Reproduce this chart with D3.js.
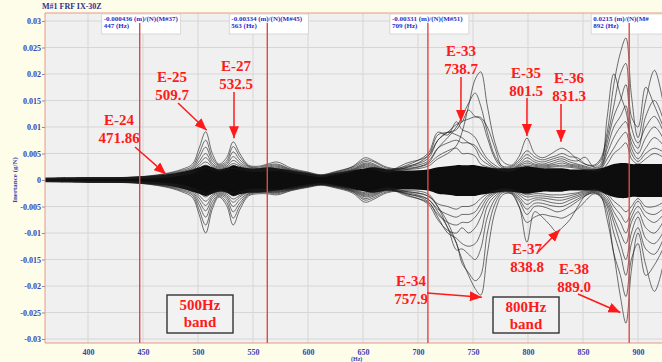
<!DOCTYPE html>
<html lang="en">
<head>
<meta charset="UTF-8">
<title>M#1 FRF IX-30Z</title>
<script src="https://d3js.org/d3.v7.min.js"></script>
<style>
    body { margin: 0; background: #fdfde9; }
    svg { display: block; }
</style>
</head>
<body>
<div id="chart"></div>
<script>
    // frequency grid (Hz)
    var freqs = [
        361, 400, 440, 470, 485, 495, 501, 507, 513, 519,
        526, 532, 538, 546, 555, 563, 572, 585, 600, 612,
        625, 640, 652, 660, 672, 690, 709, 718, 727, 735,
        740, 746, 752, 757, 763, 770, 777, 785, 792, 799,
        806, 813, 820, 826, 831, 838, 845, 852, 860, 866,
        872, 878, 884, 889, 894, 900, 907, 915, 925];

    // dense core of the bundle, in 1e-3 (m)/(N)
    var coreUpper = [
        0.4, 0.5, 0.6, 1.0, 1.5, 2.0, 2.4, 2.8, 2.4, 2.0,
        2.3, 2.8, 2.5, 2.2, 2.2, 2.4, 2.2, 1.8, 1.3, 0.9,
        1.3, 1.8, 2.2, 2.4, 2.0, 1.8, 2.0, 2.4, 2.6, 2.8,
        2.8, 2.8, 2.8, 2.6, 2.4, 2.2, 2.2, 2.2, 2.4, 2.6,
        2.4, 2.2, 2.2, 2.2, 2.2, 2.0, 2.0, 2.0, 2.0, 2.2,
        2.6, 3.0, 3.2, 3.2, 3.0, 3.0, 3.0, 3.0, 3.0];
    var coreLower = [
        -0.4, -0.5, -0.6, -1.0, -1.6, -2.2, -2.6, -3.0, -2.6, -2.2,
        -2.4, -3.0, -2.7, -2.4, -2.4, -2.2, -2.0, -1.7, -1.2, -0.9,
        -1.2, -1.7, -2.2, -2.4, -2.0, -1.8, -2.0, -2.6, -2.8, -3.0,
        -3.0, -3.0, -3.0, -2.8, -2.6, -2.4, -2.2, -2.2, -2.4, -2.6,
        -2.4, -2.2, -2.2, -2.2, -2.2, -2.0, -2.0, -2.0, -2.0, -2.2,
        -2.8, -3.2, -3.4, -3.4, -3.2, -3.2, -3.2, -3.2, -3.2];

    // individual FRF curves, in 1e-3 (m)/(N)
    var p1 = [
        0.3, 0.4, 0.5, 1.2, 2.0, 3.0, 6.0, 9.1, 5.0, 3.0,
        4.2, 7.2, 5.0, 2.8, 2.6, 3.0, 3.4, 2.2, 1.5, 1.0,
        1.6, 2.5, 4.2, 3.6, 2.4, 2.0, 2.6, 4.0, 5.0, 6.5,
        9.0, 14.0, 19.0, 20.4, 14.0, 7.0, 3.5, 2.8, 4.5, 7.9,
        5.0, 4.2, 4.8, 5.6, 6.0, 5.2, 3.8, 3.0, 2.8, 4.0,
        9.0, 18.0, 24.0, 26.8, 16.0, 8.0, 15.0, 20.7, 12.0];
    var p2 = [
        0.3, 0.4, 0.5, 1.1, 1.8, 2.6, 5.0, 7.5, 4.2, 2.8,
        3.6, 6.3, 4.4, 2.6, 2.4, 2.8, 3.0, 2.0, 1.4, 0.9,
        1.5, 2.4, 3.8, 3.4, 2.2, 2.2, 3.2, 6.0, 8.0, 10.0,
        12.0, 14.5, 16.4, 14.0, 9.0, 4.5, 2.6, 2.6, 3.8, 5.5,
        4.4, 3.8, 4.2, 4.6, 5.0, 4.4, 4.2, 3.0, 2.6, 3.6,
        8.0, 14.0, 20.0, 22.0, 12.0, 10.0, 17.5, 14.0, 9.0];
    var p3 = [
        0.3, 0.4, 0.5, 1.0, 1.6, 2.3, 4.2, 6.2, 3.6, 2.6,
        3.2, 5.3, 3.8, 2.5, 2.2, 2.6, 2.8, 1.9, 1.3, 0.9,
        1.4, 2.2, 3.5, 3.0, 2.0, 2.6, 4.0, 7.5, 9.0, 10.5,
        11.0, 13.2, 12.0, 11.8, 10.0, 6.0, 2.4, 2.4, 3.4, 4.8,
        3.8, 3.4, 3.8, 4.2, 4.4, 3.8, 3.6, 4.3, 2.4, 3.0,
        11.9, 20.0, 16.0, 13.0, 8.0, 6.0, 12.0, 15.0, 10.0];
    var p4 = [
        0.3, 0.35, 0.45, 0.9, 1.5, 2.1, 3.5, 5.0, 3.1, 2.4,
        2.9, 4.4, 3.3, 2.3, 2.0, 2.4, 2.6, 1.8, 1.2, 0.8,
        1.3, 2.0, 3.2, 2.8, 1.9, 2.4, 4.5, 8.5, 9.0, 9.5,
        11.0, 11.5, 11.9, 11.5, 8.0, 4.0, 2.2, 2.2, 3.0, 4.2,
        3.4, 3.0, 3.4, 3.8, 4.0, 3.4, 3.0, 2.6, 2.2, 2.6,
        7.0, 12.0, 15.0, 18.0, 10.0, 7.0, 10.0, 12.0, 8.0];
    var p5 = [
        0.25, 0.3, 0.4, 0.8, 1.3, 1.9, 3.0, 4.2, 2.8, 2.2,
        2.6, 3.7, 2.9, 2.1, 1.9, 2.2, 2.4, 1.7, 1.1, 0.8,
        1.2, 1.9, 3.0, 2.6, 1.8, 2.8, 5.0, 9.0, 8.5, 11.0,
        9.5, 9.0, 8.0, 6.0, 4.0, 2.8, 2.0, 2.0, 2.8, 3.6,
        3.0, 2.8, 3.0, 3.4, 3.6, 3.0, 2.8, 2.4, 2.0, 2.4,
        6.0, 10.0, 12.0, 14.0, 7.0, 5.0, 8.0, 10.0, 7.0];
    var p6 = [
        0.25, 0.3, 0.4, 0.7, 1.2, 1.7, 2.6, 3.4, 2.5, 2.0,
        2.4, 3.1, 2.6, 2.0, 1.8, 2.0, 2.2, 1.6, 1.0, 0.7,
        1.1, 1.8, 2.8, 2.4, 1.7, 3.2, 4.5, 7.5, 9.0, 8.5,
        8.0, 7.0, 6.5, 5.0, 3.5, 2.4, 1.9, 1.9, 2.6, 3.2,
        2.8, 2.6, 2.8, 3.0, 3.2, 2.8, 2.6, 2.2, 1.9, 2.2,
        5.0, 8.0, 10.0, 11.0, 6.0, 4.0, 6.0, 8.0, 6.0];
    var p7 = [
        0.2, 0.3, 0.35, 0.6, 1.0, 1.5, 2.2, 2.8, 2.2, 1.9,
        2.1, 2.7, 2.3, 1.9, 1.7, 1.9, 2.0, 1.5, 1.0, 0.7,
        1.1, 1.7, 2.6, 2.2, 1.6, 2.4, 3.5, 6.0, 7.0, 7.5,
        7.0, 7.0, 6.0, 4.0, 3.0, 2.2, 1.8, 1.8, 2.4, 2.8,
        2.6, 2.4, 2.6, 2.7, 2.8, 2.6, 2.4, 2.0, 1.8, 2.0,
        4.0, 6.0, 8.0, 9.0, 5.0, 3.5, 5.0, 6.0, 5.0];
    var p8 = [
        0.2, 0.25, 0.3, 0.5, 0.9, 1.3, 1.8, 2.3, 1.9, 1.7,
        1.9, 2.2, 2.0, 1.7, 1.6, 1.7, 1.8, 1.4, 0.9, 0.6,
        1.0, 1.6, 2.4, 2.0, 1.5, 2.0, 3.0, 4.5, 5.5, 6.0,
        5.0, 5.0, 4.5, 3.0, 2.5, 2.0, 1.7, 1.7, 2.2, 2.5,
        2.4, 2.2, 2.4, 2.5, 2.5, 2.4, 2.2, 1.9, 1.7, 1.8,
        3.0, 5.0, 6.0, 7.0, 4.0, 3.0, 4.0, 5.0, 4.0];
    var n1 = [
        -0.3, -0.4, -0.5, -1.3, -2.2, -3.3, -6.5, -10.0, -5.5, -3.2,
        -4.8, -8.5, -5.6, -3.0, -2.6, -2.6, -2.8, -2.0, -1.4, -1.0,
        -1.5, -2.4, -4.2, -3.6, -2.4, -2.0, -2.6, -5.0, -8.0, -12.0,
        -15.0, -18.0, -20.5, -21.7, -14.0, -6.0, -2.8, -2.6, -5.0, -11.7,
        -6.0, -7.0, -8.5, -9.8, -9.0, -7.5, -5.1, -3.0, -2.4, -3.0,
        -7.5, -14.0, -22.0, -27.0, -17.0, -10.0, -16.0, -21.0, -14.0];
    var n2 = [
        -0.3, -0.4, -0.5, -1.2, -2.0, -2.9, -5.6, -8.5, -4.8, -3.0,
        -4.2, -7.2, -4.9, -2.8, -2.4, -2.4, -2.6, -1.9, -1.3, -0.9,
        -1.4, -2.2, -3.8, -3.3, -2.2, -2.2, -3.0, -5.1, -9.0, -11.9,
        -15.7, -17.5, -19.0, -18.0, -10.0, -4.5, -2.4, -2.6, -5.1, -8.0,
        -7.0, -6.5, -6.8, -7.0, -7.2, -6.5, -5.5, -4.0, -2.6, -3.2,
        -6.0, -13.8, -18.0, -22.0, -15.0, -12.0, -18.0, -16.0, -12.0];
    var n3 = [
        -0.3, -0.35, -0.45, -1.1, -1.8, -2.6, -4.7, -7.0, -4.1, -2.8,
        -3.6, -6.0, -4.3, -2.6, -2.2, -2.3, -2.4, -1.8, -1.2, -0.9,
        -1.3, -2.1, -3.5, -3.0, -2.0, -2.4, -3.6, -6.0, -9.0, -13.2,
        -13.0, -14.0, -15.0, -13.0, -7.0, -3.6, -2.2, -2.4, -4.0, -6.5,
        -5.0, -5.0, -5.5, -6.0, -5.8, -5.0, -4.0, -3.0, -2.4, -3.0,
        -5.0, -10.0, -14.0, -18.0, -12.0, -9.0, -13.0, -14.0, -10.0];
    var n4 = [
        -0.3, -0.35, -0.45, -1.0, -1.6, -2.3, -4.0, -5.8, -3.5, -2.6,
        -3.2, -5.0, -3.7, -2.5, -2.1, -2.2, -2.3, -1.8, -1.2, -0.8,
        -1.2, -2.0, -3.2, -2.8, -1.9, -2.6, -4.0, -7.0, -10.0, -11.0,
        -12.0, -12.5, -12.0, -10.0, -5.0, -3.0, -2.1, -2.3, -3.6, -5.5,
        -4.4, -4.4, -4.8, -5.0, -5.0, -4.4, -3.6, -2.8, -2.2, -2.8,
        -4.5, -8.0, -12.0, -15.0, -10.0, -7.0, -11.0, -12.0, -9.0];
    var n5 = [
        -0.25, -0.3, -0.4, -0.9, -1.4, -2.1, -3.4, -4.8, -3.1, -2.4,
        -2.9, -4.2, -3.2, -2.3, -2.0, -2.1, -2.2, -1.7, -1.1, -0.8,
        -1.2, -1.9, -3.0, -2.6, -1.8, -2.8, -4.5, -7.5, -9.5, -10.0,
        -9.0, -10.0, -9.0, -7.0, -4.0, -2.6, -2.0, -2.2, -3.2, -4.6,
        -3.8, -3.8, -4.2, -4.4, -4.4, -3.8, -3.2, -2.6, -2.1, -2.6,
        -4.0, -7.0, -10.0, -12.0, -8.0, -6.0, -9.0, -10.0, -7.0];
    var n6 = [
        -0.25, -0.3, -0.4, -0.8, -1.3, -1.9, -2.9, -4.0, -2.8, -2.2,
        -2.6, -3.6, -2.9, -2.2, -1.9, -2.0, -2.1, -1.6, -1.0, -0.8,
        -1.1, -1.8, -2.8, -2.4, -1.7, -3.0, -4.2, -6.5, -8.0, -8.5,
        -8.0, -8.0, -7.0, -5.5, -3.4, -2.4, -1.9, -2.0, -2.8, -3.8,
        -3.4, -3.4, -3.6, -3.8, -3.8, -3.4, -2.9, -2.4, -2.0, -2.4,
        -3.5, -6.0, -8.0, -10.0, -7.0, -5.0, -7.0, -8.0, -6.0];
    var n7 = [
        -0.2, -0.3, -0.35, -0.7, -1.1, -1.7, -2.4, -3.2, -2.4, -2.1,
        -2.3, -3.0, -2.5, -2.0, -1.8, -1.9, -2.0, -1.5, -1.0, -0.7,
        -1.1, -1.7, -2.6, -2.2, -1.6, -2.6, -3.6, -5.5, -6.5, -7.0,
        -6.5, -6.5, -6.0, -4.5, -3.0, -2.2, -1.8, -1.9, -2.5, -3.2,
        -3.0, -3.0, -3.2, -3.3, -3.3, -3.0, -2.6, -2.2, -1.9, -2.2,
        -3.0, -5.0, -6.5, -8.0, -6.0, -4.0, -6.0, -6.5, -5.0];
    var n8 = [
        -0.2, -0.25, -0.3, -0.6, -1.0, -1.5, -2.0, -2.6, -2.1, -1.9,
        -2.1, -2.5, -2.2, -1.8, -1.7, -1.8, -1.9, -1.4, -0.9, -0.7,
        -1.0, -1.6, -2.4, -2.0, -1.5, -2.2, -3.0, -4.5, -5.0, -5.5,
        -5.0, -5.0, -4.5, -3.5, -2.6, -2.0, -1.7, -1.8, -2.2, -2.8,
        -2.6, -2.6, -2.8, -2.8, -2.8, -2.6, -2.4, -2.0, -1.8, -2.0,
        -2.6, -4.0, -5.0, -6.0, -5.0, -3.5, -5.0, -5.0, -4.0];
    var curves = [p8, p7, p6, p5, p4, p3, p2, p1, n8, n7, n6, n5, n4, n3, n2, n1];

    var xTicks = [400, 450, 500, 550, 600, 650, 700, 750, 800, 850, 900];
    var yTicks = [-0.03, -0.025, -0.02, -0.015, -0.01, -0.005, 0, 0.005, 0.01, 0.015, 0.02, 0.025, 0.03];

    // cursors
    var cursorFreqs = [447, 563, 709, 892];
    var cursorValues = ["-0.000436 (m)/(N)(M#37)", "-0.00334 (m)/(N)(M#45)", "-0.00331 (m)/(N)(M#51)", "0.0215 (m)/(N)(M#"];

    // annotated modes
    var modeNames = ["E-24", "E-25", "E-27", "E-33", "E-35", "E-36", "E-34", "E-37", "E-38"];
    var modeFreqs = ["471.86", "509.7", "532.5", "738.7", "801.5", "831.3", "757.9", "838.8", "889.0"];
    var tipFreqs = [470.9, 507.9, 532.7, 739, 799, 830, 758, 829, 884];
    var tipValues = [0.0011, 0.0094, 0.0079, 0.011, 0.0083, 0.0072, -0.0221, -0.0094, -0.025];

    var bandLabels = ["500Hz", "800Hz"];

    var W = 662, H = 362;
    var plotL = 45, plotT = 13, plotB = 343, plotR = 664;

    var x = d3.scaleLinear().domain([400, 900]).range([88, 638]);
    var y = d3.scaleLinear().domain([-0.03, 0.03]).range([339, 21]);

    var svg = d3.select("#chart").append("svg").attr("width", W).attr("height", H);

    var defs = svg.append("defs");
    defs.append("clipPath").attr("id", "plotclip")
        .append("rect").attr("x", plotL).attr("y", plotT).attr("width", plotR - plotL).attr("height", plotB - plotT);
    defs.append("marker").attr("id", "arrow")
        .attr("viewBox", "0 -5 12 10").attr("refX", 12).attr("refY", 0)
        .attr("markerWidth", 12).attr("markerHeight", 10).attr("markerUnits", "userSpaceOnUse")
        .attr("orient", "auto")
        .append("path").attr("d", "M0,-5L12,0L0,5Z").attr("fill", "#ff1a1a");

    svg.append("rect").attr("width", W).attr("height", H).attr("fill", "#fdfde9");
    svg.append("rect").attr("x", plotL).attr("y", plotT).attr("width", plotR - plotL).attr("height", plotB - plotT)
        .attr("fill", "#f0f0f0");

    // grid
    var grid = svg.append("g").attr("clip-path", "url(#plotclip)");
    grid.selectAll(".gx").data(xTicks).enter().append("line")
        .attr("x1", function (d) { return x(d); }).attr("x2", function (d) { return x(d); })
        .attr("y1", plotT).attr("y2", plotB)
        .attr("stroke", "#d6d6d6").attr("stroke-width", 1);
    grid.selectAll(".gy").data(yTicks).enter().append("line")
        .attr("x1", plotL).attr("x2", plotR)
        .attr("y1", function (d) { return y(d); }).attr("y2", function (d) { return y(d); })
        .attr("stroke", "#d6d6d6").attr("stroke-width", 1);

    // curves
    var plot = svg.append("g").attr("clip-path", "url(#plotclip)");
    var core = d3.area()
        .x(function (d, i) { return x(freqs[i]); })
        .y0(function (d, i) { return y(coreLower[i] * 1e-3); })
        .y1(function (d) { return y(d * 1e-3); })
        .curve(d3.curveCatmullRom.alpha(0.5));
    plot.append("path").attr("d", core(coreUpper)).attr("fill", "#0d0d0d");

    var line = d3.line()
        .x(function (d, i) { return x(freqs[i]); })
        .y(function (d) { return y(d * 1e-3); })
        .curve(d3.curveCatmullRom.alpha(0.5));
    plot.selectAll(".frf").data(curves).enter().append("path")
        .attr("d", line)
        .attr("fill", "none")
        .attr("stroke", "#1c1c1c")
        .attr("stroke-opacity", 0.7)
        .attr("stroke-width", 0.9);

    // axes
    var fmt = function (v) { return String(+v.toFixed(3)); };
    var yAxis = svg.append("g").attr("transform", "translate(" + plotL + ",0)")
        .call(d3.axisLeft(y).tickValues(yTicks).tickFormat(fmt).tickSize(3).tickPadding(1));
    yAxis.select(".domain").remove();
    yAxis.selectAll("line").attr("stroke", "#8888aa");
    yAxis.selectAll("text").attr("fill", "#3c3cb4")
        .style("font", "bold 8px 'Liberation Serif', serif");

    var xAxis = svg.append("g").attr("transform", "translate(0," + plotB + ")")
        .call(d3.axisBottom(x).tickValues(xTicks).tickSize(0).tickPadding(6));
    xAxis.select(".domain").remove();
    xAxis.selectAll("text").attr("fill", "#3c3cb4")
        .style("font", "bold 8px 'Liberation Serif', serif");

    svg.append("line").attr("x1", plotL).attr("x2", plotL).attr("y1", plotT).attr("y2", plotB)
        .attr("stroke", "#e29a88").attr("stroke-width", 1);
    svg.append("line").attr("x1", plotL).attr("x2", W).attr("y1", plotB).attr("y2", plotB)
        .attr("stroke", "#e29a88").attr("stroke-width", 1);
    svg.append("line").attr("x1", plotL).attr("x2", W).attr("y1", plotT).attr("y2", plotT)
        .attr("stroke", "#e29a88").attr("stroke-width", 1);

    svg.append("text").attr("x", 42).attr("y", 9)
        .attr("fill", "#303090").style("font", "bold 8px 'Liberation Serif', serif")
        .text("M#1 FRF IX-30Z");
    svg.append("text").attr("transform", "translate(17,180) rotate(-90)")
        .attr("text-anchor", "middle").attr("fill", "#3c3cb4")
        .style("font", "bold 7px 'Liberation Serif', serif")
        .text("Inertance (g/N)");
    svg.append("text").attr("x", 351).attr("y", 361)
        .attr("fill", "#3c3cb4").style("font", "bold 6px 'Liberation Serif', serif")
        .text("(Hz)");

    // cursor boxes and lines
    var cur = svg.selectAll(".cursor").data(cursorFreqs).enter().append("g");
    cur.append("rect")
        .attr("x", function (d) { return x(d) - 38; }).attr("y", plotT + 1)
        .attr("width", 79).attr("height", 20)
        .attr("fill", "#ffffff").attr("stroke", "#d0d0d0").attr("stroke-width", 0.8);
    cur.append("line")
        .attr("x1", function (d) { return x(d); }).attr("x2", function (d) { return x(d); })
        .attr("y1", plotT + 10).attr("y2", plotB)
        .attr("stroke", "#e04848").attr("stroke-width", 1.4);
    cur.append("text")
        .attr("x", function (d) { return x(d) - 36; }).attr("y", plotT + 8)
        .attr("fill", "#2c2cc8").style("font", "bold 7px 'Liberation Serif', serif")
        .text(function (d, i) { return cursorValues[i]; });
    cur.append("text")
        .attr("x", function (d) { return x(d) - 36; }).attr("y", plotT + 15)
        .attr("fill", "#2c2cc8").style("font", "bold 7px 'Liberation Serif', serif")
        .text(function (d) { return d + " (Hz)"; });

    // band boxes
    var bandPos = [{x: 167, y: 295, w: 66, h: 38}, {x: 493, y: 297, w: 66, h: 36}];
    bandLabels.forEach(function (b, i) {
        var p = bandPos[i];
        svg.append("rect").attr("x", p.x).attr("y", p.y).attr("width", p.w).attr("height", p.h)
            .attr("fill", "#f2f2f2").attr("stroke", "#333").attr("stroke-width", 1.4);
        svg.append("text").attr("x", p.x + p.w / 2).attr("y", p.y + 15).attr("text-anchor", "middle")
            .attr("fill", "#ff1a1a").style("font", "bold 15px 'Liberation Serif', serif").text(b);
        svg.append("text").attr("x", p.x + p.w / 2).attr("y", p.y + 32).attr("text-anchor", "middle")
            .attr("fill", "#ff1a1a").style("font", "bold 15px 'Liberation Serif', serif").text("band");
    });

    // mode annotations
    var labelPos = [
        {cx: 119, y: 125, sx: 135, sy: 147},
        {cx: 172, y: 82, sx: 178, sy: 103},
        {cx: 236, y: 71, sx: 234, sy: 92},
        {cx: 461, y: 56, sx: 461, sy: 77},
        {cx: 526, y: 78, sx: 527, sy: 98},
        {cx: 569, y: 83, sx: 561, sy: 104},
        {cx: 411, y: 286, sx: 427, sy: 293},
        {cx: 527, y: 254, sx: 538, sy: 252},
        {cx: 574, y: 274, sx: 578, sy: 294}
    ];
    modeNames.forEach(function (name, i) {
        var p = labelPos[i];
        svg.append("line")
            .attr("x1", p.sx).attr("y1", p.sy)
            .attr("x2", x(tipFreqs[i])).attr("y2", y(tipValues[i]))
            .attr("stroke", "#ff1a1a").attr("stroke-width", 1.5)
            .attr("marker-end", "url(#arrow)");
        svg.append("text").attr("x", p.cx).attr("y", p.y).attr("text-anchor", "middle")
            .attr("fill", "#ff1a1a").style("font", "bold 15px 'Liberation Serif', serif").text(name);
        svg.append("text").attr("x", p.cx).attr("y", p.y + 18).attr("text-anchor", "middle")
            .attr("fill", "#ff1a1a").style("font", "bold 15px 'Liberation Serif', serif").text(modeFreqs[i]);
    });
</script>
</body>
</html>
